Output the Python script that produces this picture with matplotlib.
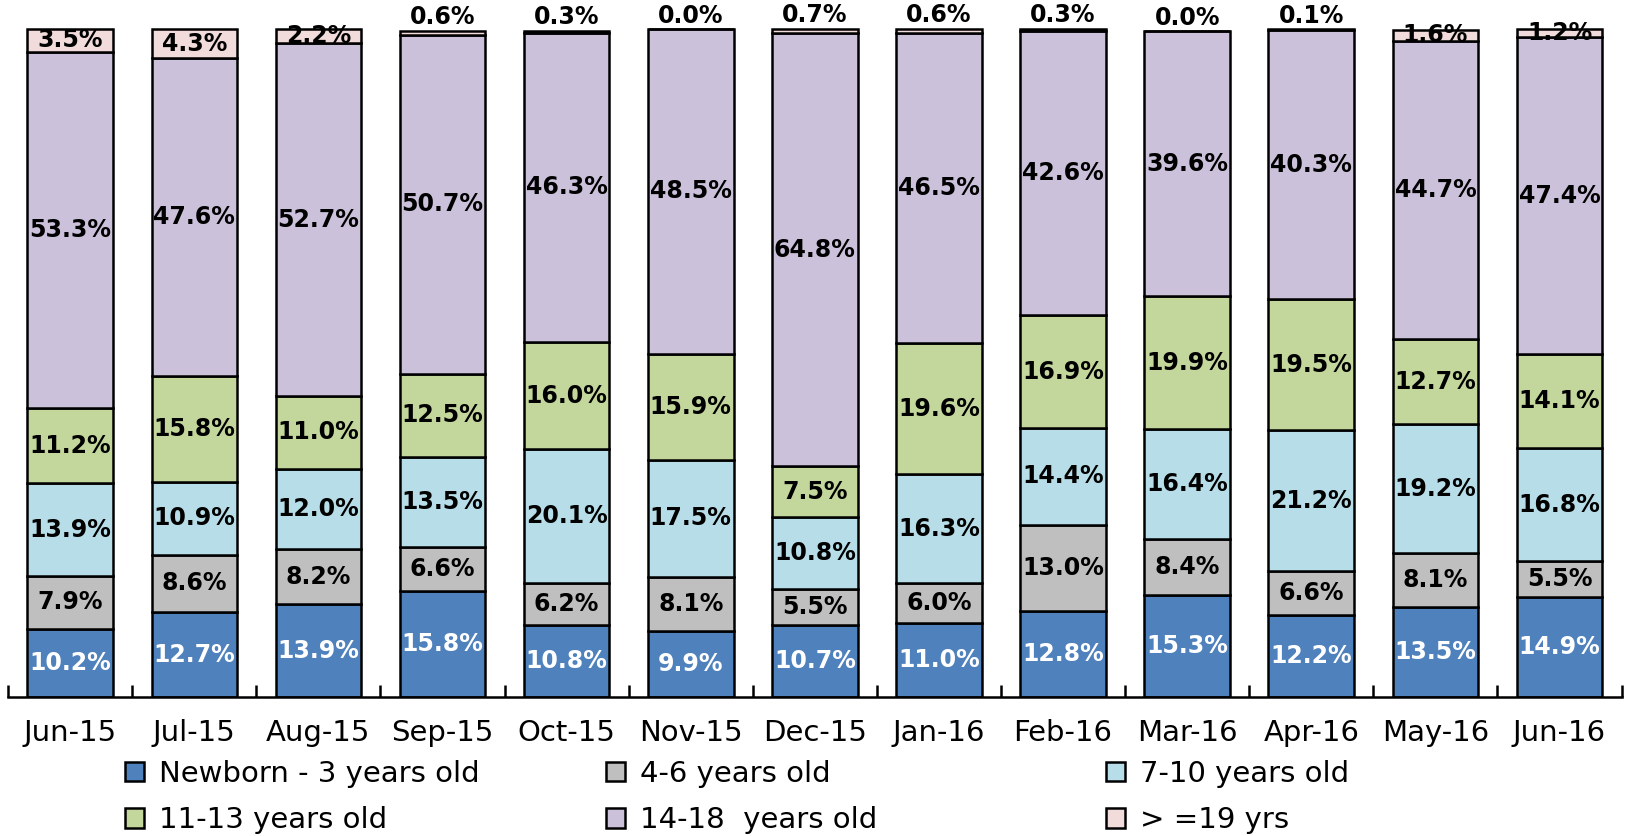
import matplotlib.pyplot as plt
import numpy as np

months = ["Jun-15", "Jul-15", "Aug-15", "Sep-15", "Oct-15", "Nov-15", "Dec-15",
          "Jan-16", "Feb-16", "Mar-16", "Apr-16", "May-16", "Jun-16"]
groups = ["Newborn - 3 years old", "4-6 years old", "7-10 years old",
          "11-13 years old", "14-18  years old", "> =19 yrs"]

newborn_3 = [10.2, 12.7, 13.9, 15.8, 10.8, 9.9, 10.7, 11.0, 12.8, 15.3, 12.2, 13.5, 14.9]
age_4_6 = [7.9, 8.6, 8.2, 6.6, 6.2, 8.1, 5.5, 6.0, 13.0, 8.4, 6.6, 8.1, 5.5]
age_7_10 = [13.9, 10.9, 12.0, 13.5, 20.1, 17.5, 10.8, 16.3, 14.4, 16.4, 21.2, 19.2, 16.8]
age_11_13 = [11.2, 15.8, 11.0, 12.5, 16.0, 15.9, 7.5, 19.6, 16.9, 19.9, 19.5, 12.7, 14.1]
age_14_18 = [53.3, 47.6, 52.7, 50.7, 46.3, 48.5, 64.8, 46.5, 42.6, 39.6, 40.3, 44.7, 47.4]
age_19_up = [3.5, 4.3, 2.2, 0.6, 0.3, 0.0, 0.7, 0.6, 0.3, 0.0, 0.1, 1.6, 1.2]

series = [newborn_3, age_4_6, age_7_10, age_11_13, age_14_18, age_19_up]
colors = ["#4F81BD", "#BFBFBF", "#B7DEE8", "#C3D69B", "#CCC1DA", "#F2DCDB"]
text_colors = ["white", "black", "black", "black", "black", "black"]

fig = plt.figure(figsize=(16.33, 8.36), dpi=100)
ax = fig.add_axes([0.005, 1 - 697 / 836, 0.988, 697 / 836])

x = np.arange(len(months))
bottom = np.zeros(len(months))
handles = []
for vals, col, tcol, name in zip(series, colors, text_colors, groups):
    vals = np.array(vals)
    b = ax.bar(x, vals, 0.69, bottom=bottom, color=col, edgecolor="black",
               linewidth=1.8, label=name, zorder=2)
    handles.append(b)
    for i, v in enumerate(vals):
        if v < 1.0:
            y = bottom[i] + v + 2.0
        else:
            y = bottom[i] + v / 2
        ax.text(x[i], y, f"{v:.1f}%", ha="center", va="center",
                fontsize=17, fontweight="bold", color=tcol, zorder=3)
    bottom += vals

ax.set_xlim(-0.5, len(months) - 0.5)
ax.set_ylim(0, 104.3)
for s in ["left", "right", "top"]:
    ax.spines[s].set_visible(False)
ax.spines["bottom"].set_linewidth(1.8)
ax.set_yticks([])
ax.set_xticks(x)
ax.set_xticklabels(months, fontsize=21)
ax.tick_params(axis="x", which="major", length=0, pad=16)
ax.set_xticks(np.arange(-0.5, len(months), 1), minor=True)
ax.tick_params(axis="x", which="minor", direction="in", length=9, width=1.8)

# legend laid out row by row, one legend per column
col_x = [125, 606, 1106]
for c in range(3):
    fig.legend([handles[c], handles[c + 3]], [groups[c], groups[c + 3]],
               loc="upper left", bbox_to_anchor=(col_x[c] / 1633, 1 - 760 / 836),
               fontsize=21, frameon=False, handlelength=0.65, handleheight=0.65,
               handletextpad=0.5, labelspacing=0.62, borderpad=0, borderaxespad=0)

fig.savefig("out.png", dpi=100)
